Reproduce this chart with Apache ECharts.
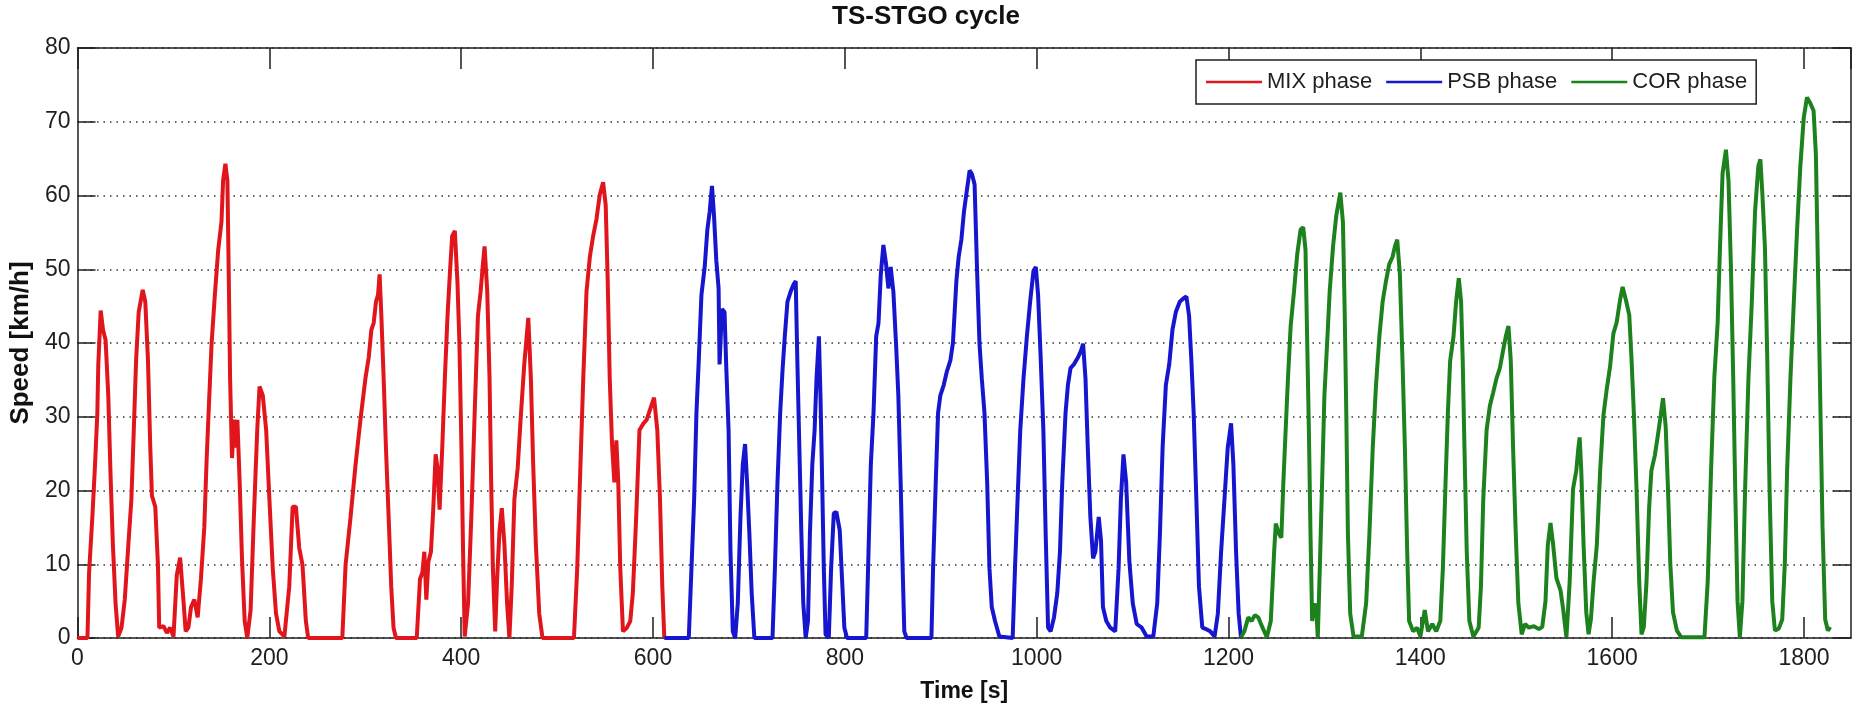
<!DOCTYPE html>
<html>
<head>
<meta charset="utf-8">
<title>TS-STGO cycle</title>
<script src="https://cdn.jsdelivr.net/npm/echarts@6.0.0/dist/echarts.min.js"></script>
<style>
  html, body { margin: 0; padding: 0; background: #fff; }
  #chart { width: 1852px; height: 708px; }
</style>
</head>
<body>
<div id="chart"></div>
<script>
// speed traces, [time s, speed km/h]
const mixPhase = [
  [0,0],[10.4,0],[12.1,8.9],[15.5,16.4],[18.3,23.5],[20.7,30.5],[21.7,37.1],[24.2,44.4],[26.6,41.8],[29.3,40.4],
  [32.1,32.9],[34.5,22],[36.9,12.7],[39.7,4.7],[42.4,0.2],[45.9,1.4],[49.3,5.2],[52.8,12.2],[56.2,18.8],[58.7,28.2],
  [61.1,37.6],[63.8,44.2],[68,47.2],[70.7,45.6],[73.5,37.6],[75.9,25.8],[77.6,19.3],[81.1,17.8],[83.9,9.9],[85.2,1.4],
  [89.7,1.6],[93.2,0.7],[96.6,1.4],[100.1,0.2],[103.5,8.5],[107,10.9],[110.4,5.2],[112.8,0.9],[115.6,1.4],[118.4,4.2],
  [121.8,5.2],[125.3,2.8],[128.7,8],[132.2,15],[134.6,24],[137,31.5],[139.8,39.9],[143.2,46.5],[146.7,52.6],[150.1,56.4],
  [151.8,62],[154.2,64.3],[156.3,62],[157.7,49.3],[159.1,35.2],[161.1,24.4],[163.2,29.6],[164.9,25.8],[166.7,29.6],[169.1,21.1],
  [171.5,10.8],[174.3,2.3],[177,0],[180.5,3.8],[183.9,16.4],[187.4,28.2],[189.8,34.1],[193.2,32.9],[196.7,28.2],[200.1,18.8],
  [203.6,9.4],[207,3.3],[210.5,0.9],[215.7,0.2],[220.8,7],[224.3,17.8],[227.7,17.8],[231.2,12.2],[234.6,9.9],[238.1,2.3],
  [240.5,0],[276.1,0],[279.5,9.9],[284.7,16.4],[289.9,23.5],[295,29.6],[300.2,35.2],[303.6,38],[306.4,41.8],[308.8,42.7],
  [311.2,45.6],[313.3,46.5],[315,49.3],[316.8,43.7],[319.2,35.2],[321.6,25.8],[324.4,16.4],[327.1,7],[329.5,1.4],[332,0],
  [353.7,0],[357.1,8],[359.6,8.9],[361.6,11.7],[363.7,5.2],[365.8,10.3],[368.5,11.7],[370.9,17.4],[373.4,24.9],[375.4,23],
  [377.5,17.4],[380.3,25.8],[383,35.2],[385.8,43.7],[388.2,49.3],[390.6,54.5],[393.4,55.2],[396.1,48.4],[398.2,39.9],[400.3,25.8],
  [402,11.7],[403.7,0.2],[407.2,4.7],[410.6,16.4],[414.1,30.5],[417.5,43.7],[420.3,47],[422.7,50.7],[424.4,53.1],[427.2,47],
  [429.6,35.2],[431.3,21.1],[433.1,9.4],[435.5,0.9],[437.5,8],[440,14.6],[442.4,17.6],[445.1,12.7],[447.9,4.7],[450.3,0],
  [452.7,7],[455.5,18.8],[458.9,23],[462.4,30.5],[465.8,37.1],[470,43.4],[472.7,35.2],[475.1,23.5],[477.9,12.7],[481.4,3.3],
  [484.8,0],[517.6,0],[521,9.4],[523.8,21.1],[527.3,35.2],[530.7,47],[534.2,51.7],[537.6,54.5],[541.1,56.8],[544.5,60.1],
  [548,61.8],[550.7,58.7],[552.8,48.4],[554.9,35.2],[557.3,26.3],[559.7,21.1],[561.8,26.8],[563.8,21.1],[565.9,9.4],[568.7,0.9],
  [572.8,1.4],[576.3,2.3],[579,6.1],[582.5,16.4],[585.9,28.2],[590.1,29.1],[593.5,29.6],[597,31],[601.1,32.6],[604.5,28.2],
  [607.3,18.8],[609.7,7],[611.8,0]
];

const psbPhase = [
  [611.8,0],[637.3,0],[640.1,9.4],[642.9,18.8],[645.3,30.5],[647.7,37.6],[650.5,46.5],[653.9,50.3],[656.7,55.4],[659.1,57.8],
  [661.5,61.3],[663.6,57.3],[666,51.2],[668.4,47.4],[669.4,37.1],[671.9,44.6],[674.6,44.2],[676.3,37.1],[678.8,28.2],[680.8,11.7],
  [683.2,0.9],[685.7,0],[688.4,4.7],[691.2,16.4],[693.6,23.5],[696,26.3],[698.1,21.1],[700.5,14.1],[702.9,6.1],[705.7,0],
  [724.6,0],[727.1,9.4],[729.8,21.1],[732.6,30.5],[735,36.2],[737.4,40.9],[740.2,45.6],[743.6,47],[746.4,47.9],[748.8,48.4],
  [750.5,37.6],[752.6,25.8],[754.7,14.1],[756.7,4.7],[759.2,0],[761.6,2.3],[763.6,14.1],[766.1,23.5],[768.5,28.2],[770.5,35.2],
  [773,40.9],[774.7,32.4],[776.4,21.1],[778.1,9.4],[779.9,0.5],[783.3,0],[785.7,9.4],[788.5,16.9],[791.2,17.1],[794.7,14.6],
  [797.1,8],[799.5,1.4],[802.3,0],[822.3,0],[824.7,11.7],[827.1,23.5],[829.9,30.5],[832.7,40.9],[835.1,42.7],[837.5,49.3],
  [840.2,53.3],[843,50.7],[845.4,47.4],[847.8,50.3],[850.6,47],[853.4,39.9],[855.8,32.9],[858.2,21.1],[860.3,9.4],[862,0.9],
  [864.4,0],[890.3,0],[892,9.4],[894.8,21.1],[897.2,30.5],[899.6,32.9],[903.1,34.3],[906.5,36.2],[910,37.6],[912.7,40],
  [916.3,48.4],[918.7,51.7],[921.5,54],[924.2,57.8],[926.6,60.1],[930.1,63.4],[932.5,62.9],[935.3,61.5],[938,49.3],[940.4,39.9],
  [942.8,35.2],[945.6,30.5],[948.4,21.1],[950.8,9.4],[953.2,4.2],[956.6,2.3],[961.1,0.2],[975,0],[977.4,9.4],[980.1,18.8],
  [982.9,28.2],[986.3,35.2],[989.8,40.9],[993.2,45.6],[996.7,49.8],[999.1,50.3],[1001.5,46.5],[1004.3,37.6],[1007,28.2],[1009.4,14.1],
  [1011.9,1.4],[1014.6,0.9],[1018.1,2.8],[1021.5,6.1],[1024.3,11.7],[1026.7,21.1],[1030.1,30.5],[1032.6,34.3],[1035.3,36.6],[1038.8,37.1],
  [1042.9,38],[1046.4,39],[1048.4,39.9],[1050.9,35.2],[1053.3,25.8],[1056,16.4],[1058.8,10.8],[1061.2,11.7],[1064.7,16.4],[1067.1,13.2],
  [1069.1,4.2],[1072.6,2.3],[1076.7,1.4],[1081.9,0.9],[1085.4,9.4],[1087.8,18.8],[1090.5,24.9],[1093.3,21.1],[1096.7,10.3],[1100.2,4.7],
  [1104.3,1.9],[1109.5,1.4],[1114.7,0.2],[1121.6,0.2],[1125.7,4.7],[1128.5,14.1],[1131.3,25.8],[1134.7,34.3],[1138.2,37.1],[1141.6,41.8],
  [1145.1,44.2],[1149.2,45.6],[1152.6,46],[1156.1,46.3],[1158.9,43.7],[1161.3,37.6],[1163.7,30.5],[1166.5,18.8],[1169.2,7],[1172.7,1.4],
  [1176.8,1.2],[1181,0.9],[1185.5,0.2],[1188.9,3.3],[1192.3,11.7],[1195.8,18.8],[1199.2,25.8],[1202.7,29.1],[1205.1,23.5],[1207.9,11.7],
  [1210.6,3.3],[1213,0.1]
];

const corPhase = [
  [1213,0.1],[1216.5,0.9],[1220.6,2.8],[1224.1,2.3],[1227.5,3.1],[1231,2.8],[1235.5,1.4],[1240,0.1],[1244.1,2.3],[1247.6,11.7],
  [1249.3,15.5],[1252.7,14.1],[1255.1,13.6],[1257.2,21.1],[1259.6,28.2],[1262,35.2],[1264.8,42.3],[1268.3,47],[1271.7,52.1],[1275.2,55.4],
  [1277.9,55.7],[1280.3,52.6],[1282.1,39.9],[1283.8,28.2],[1285.5,14.1],[1287.2,2.3],[1289.7,4.7],[1291.7,3.3],[1293.1,0.1],[1295.2,9.4],
  [1297.6,21.1],[1300,32.9],[1302.8,39.9],[1305.5,47],[1309,53.1],[1312.4,57.3],[1316.6,60.4],[1319.3,56.4],[1321.1,44.6],[1322.8,30.5],
  [1324.5,14.1],[1326.9,3.3],[1330.4,0.2],[1339,0.2],[1343.5,4.7],[1346.9,14.1],[1350.4,25.8],[1353.8,34.3],[1357.3,40.9],[1360.7,45.6],
  [1364.2,48.4],[1367.6,50.7],[1371.1,51.7],[1373.5,53.1],[1375.9,54],[1378.7,49.3],[1381.4,37.6],[1383.9,25.8],[1386.3,11.7],[1388.3,2.3],
  [1392.5,0.9],[1396.6,1.4],[1400.1,0.2],[1404.6,3.8],[1408,0.9],[1412.5,1.9],[1416.6,0.9],[1420.8,2.3],[1423.5,9.4],[1426.3,21.1],
  [1428.7,30.5],[1431.1,37.6],[1434.6,40.9],[1437.3,45.6],[1440.1,48.8],[1442.5,45.6],[1444.2,37.6],[1446,25.8],[1448.4,11.7],[1451.1,2.3],
  [1455.3,0.2],[1460.8,1.4],[1463.2,7],[1465.6,18.8],[1469.1,28.2],[1472.5,31.5],[1476,33.3],[1479.4,35.2],[1482.9,36.6],[1486.3,39],
  [1489.1,40.9],[1491.9,42.3],[1494.3,37.6],[1496.7,25.8],[1499.5,14.1],[1502.2,4.7],[1505.7,0.5],[1509.1,1.9],[1513.3,1.4],[1518.4,1.6],
  [1523.6,1.2],[1527.1,1.5],[1530.5,5],[1532.9,12.6],[1535.7,15.6],[1538.5,12.6],[1541.9,8.1],[1546.1,6.5],[1548.8,4],[1552.3,0.1],
  [1555.7,7.6],[1559.2,20.2],[1562.6,22.7],[1564.7,25.7],[1566.1,27.2],[1567.8,22.7],[1570.2,12.6],[1573,3.5],[1575.4,0.5],[1577.8,2.5],
  [1580.6,7.6],[1584,12.6],[1587.5,22.7],[1590.9,30.2],[1594.4,33.8],[1597.8,36.8],[1601.3,41.3],[1604.7,42.8],[1608.2,45.8],[1610.9,47.6],
  [1614.4,45.8],[1617.8,43.8],[1620.2,37.8],[1622.7,30.2],[1625.4,20.2],[1628.2,7.6],[1630.6,0.5],[1633,1.5],[1635.8,7.6],[1638.5,17.6],
  [1640.9,22.7],[1644.4,24.7],[1647.9,27.7],[1650.6,30.2],[1653,32.5],[1655.8,28.7],[1658.2,20.2],[1660.6,10.1],[1663.4,3.5],[1667.5,1],
  [1672,0.1],[1696.2,0.1],[1699.6,7.6],[1703.1,22.7],[1706.5,35.3],[1710,42.8],[1712.4,52.9],[1715.1,63],[1718.6,66.2],[1721.3,62],
  [1723.8,50.4],[1726.2,35.3],[1728.3,20.2],[1730.7,5],[1733.1,0.1],[1735.8,5],[1738.6,20.2],[1742.1,35.3],[1745.5,45.3],[1749,57.9],
  [1752.4,64],[1754.5,64.9],[1756.5,60.5],[1759.3,52.9],[1761.7,37.8],[1764.1,20.2],[1766.9,5],[1769.7,1],[1773.8,1.3],[1777.3,2.5],
  [1780,10.1],[1782.4,22.7],[1785.9,35.3],[1789.3,45.3],[1792.8,55.4],[1796.2,64],[1799.7,70.5],[1803.1,73.3],[1806.6,72.5],[1810,71.5],
  [1812.4,65.5],[1814.5,50.4],[1816.9,32.7],[1819.3,15.1],[1822.1,2.5],[1824.9,1],[1827.3,1.5]
];

const phaseNames = ['MIX phase', 'PSB phase', 'COR phase'];
const phaseColors = ['#e0161c', '#1616cf', '#1d821d'];

const font = "'Liberation Sans', Arial, Helvetica, sans-serif";
const ink = '#1e1e1e';

const chart = echarts.init(document.getElementById('chart'), null, { renderer: 'canvas' });

const tickLabel = { fontFamily: font, fontSize: 23, color: ink };

chart.setOption({
  animation: false,
  backgroundColor: '#fff',
  title: {
    text: 'TS-STGO cycle',
    left: 'center',
    top: 2,
    padding: [2, 0, 2, 64],
    textStyle: { fontFamily: font, fontWeight: 'bold', fontSize: 26, color: '#111' }
  },
  legend: {
    data: phaseNames,
    left: 1196,
    top: 60,
    padding: [11, 9, 11, 10],
    icon: 'rect',
    itemWidth: 56,
    itemHeight: 2.5,
    itemGap: 14,
    selectedMode: false,
    backgroundColor: '#fff',
    borderColor: ink,
    borderWidth: 1.5,
    borderRadius: 0,
    textStyle: { fontFamily: font, fontSize: 22, color: ink }
  },
  grid: { left: 65, right: 1, top: 48, bottom: 69 },
  xAxis: [
    {
      type: 'value', min: 0, max: 1849, interval: 200,
      name: 'Time [s]', nameLocation: 'middle', nameGap: 42,
      nameTextStyle: { fontFamily: font, fontWeight: 'bold', fontSize: 23, color: '#111' },
      axisLine: { show: true, onZero: false, lineStyle: { color: ink, width: 1.5 } },
      axisTick: { show: true, inside: true, length: 21, lineStyle: { color: ink, width: 1.5 } },
      axisLabel: Object.assign({ margin: 9, showMaxLabel: false,
        formatter: v => (v % 200 === 0 ? String(v) : '') }, tickLabel),
      splitLine: { show: false }
    },
    {
      type: 'value', position: 'top', min: 0, max: 1849, interval: 200,
      axisLine: { show: true, onZero: false, lineStyle: { color: ink, width: 1.5 } },
      axisTick: { show: true, inside: true, length: 21, lineStyle: { color: ink, width: 1.5 } },
      axisLabel: { show: false },
      splitLine: { show: false }
    }
  ],
  yAxis: [
    {
      type: 'value', min: 0, max: 80, interval: 10,
      name: 'Speed [km/h]', nameLocation: 'middle', nameGap: 38,
      nameTextStyle: { fontFamily: font, fontWeight: 'bold', fontSize: 26, color: '#111' },
      axisLine: { show: true, onZero: false, lineStyle: { color: ink, width: 1.5 } },
      axisTick: { show: true, inside: true, length: 18, lineStyle: { color: ink, width: 1.5 } },
      axisLabel: Object.assign({ margin: 7 }, tickLabel),
      splitLine: { show: true, lineStyle: { color: '#333', width: 1.5, type: [1.5, 5] } }
    },
    {
      type: 'value', position: 'right', min: 0, max: 80, interval: 10,
      axisLine: { show: true, onZero: false, lineStyle: { color: ink, width: 1.5 } },
      axisTick: { show: true, inside: true, length: 18, lineStyle: { color: ink, width: 1.5 } },
      axisLabel: { show: false },
      splitLine: { show: false }
    }
  ],
  series: [mixPhase, psbPhase, corPhase].map((pts, i) => ({
    name: phaseNames[i],
    type: 'line',
    xAxisIndex: 0,
    yAxisIndex: 0,
    data: pts,
    showSymbol: false,
    symbol: 'none',
    color: phaseColors[i],
    lineStyle: { width: 4, color: phaseColors[i] },
    z: 3
  }))
});
</script>
</body>
</html>
